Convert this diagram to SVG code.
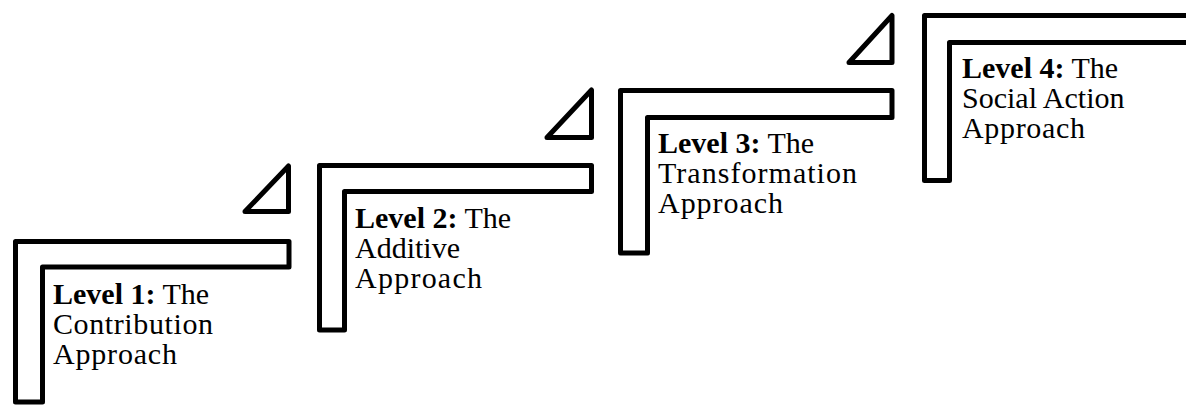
<svg xmlns="http://www.w3.org/2000/svg" width="1186" height="405" viewBox="0 0 1186 405">
  <style>
    .frame { fill: none; stroke: #000; stroke-width: 5; stroke-linejoin: round; }
    .label { font-family: "Liberation Serif", "Times New Roman", serif; font-size: 30px; fill: #000; }
    .lead { font-weight: bold; }
  </style>
  <rect width="1186" height="405" fill="#fff"/>

  <!-- step risers: small triangles between the steps -->
  <g id="risers">
    <polygon class="frame" points="288.5,166 288.5,211.5 245,211.5"/>
    <polygon class="frame" points="591.5,90 591.5,137.5 547,137.5"/>
    <polygon class="frame" points="892,15.5 892,62.5 849,62.5"/>
  </g>

  <g id="level1">
    <polygon class="frame" points="15.5,241.5 289,241.5 289,267 42.5,267 42.5,402 15.5,402"/>
    <text class="label" x="53" y="304"><tspan class="lead">Level 1:</tspan> The</text>
    <text class="label" x="53" y="334" textLength="160" lengthAdjust="spacing">Contribution</text>
    <text class="label" x="53" y="364" textLength="124" lengthAdjust="spacing">Approach</text>
  </g>

  <g id="level2">
    <polygon class="frame" points="319.5,165.5 591.5,165.5 591.5,191.5 344.5,191.5 344.5,330 319.5,330"/>
    <text class="label" x="355" y="228"><tspan class="lead">Level 2:</tspan> The</text>
    <text class="label" x="355" y="258">Additive</text>
    <text class="label" x="355" y="288" textLength="127" lengthAdjust="spacing">Approach</text>
  </g>

  <g id="level3">
    <polygon class="frame" points="620.5,90.5 892,90.5 892,117.5 647.5,117.5 647.5,253 620.5,253"/>
    <text class="label" x="658" y="153"><tspan class="lead">Level 3:</tspan> The</text>
    <text class="label" x="658" y="183" textLength="199" lengthAdjust="spacing">Transformation</text>
    <text class="label" x="658" y="213" textLength="125" lengthAdjust="spacing">Approach</text>
  </g>

  <g id="level4">
    <polygon class="frame" points="924.5,15.5 1195,15.5 1195,42.5 949.5,42.5 949.5,180.5 924.5,180.5"/>
    <text class="label" x="962" y="78"><tspan class="lead">Level 4:</tspan> The</text>
    <text class="label" x="962" y="108">Social Action</text>
    <text class="label" x="962" y="138" textLength="123" lengthAdjust="spacing">Approach</text>
  </g>
</svg>
